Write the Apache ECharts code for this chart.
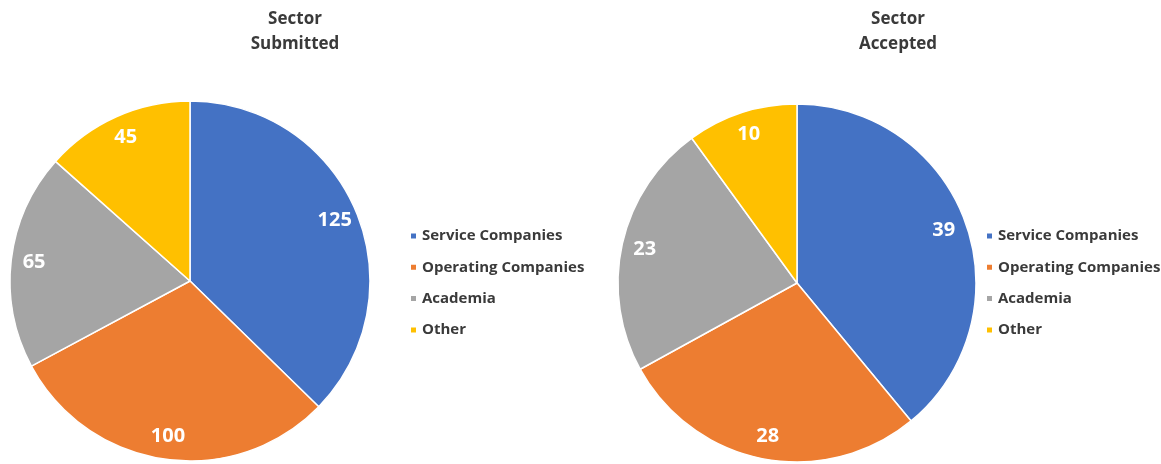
<!DOCTYPE html>
<html>
<head>
<meta charset="utf-8">
<script src="https://cdn.jsdelivr.net/npm/echarts@6/dist/echarts.min.js"></script>
<style>
  html, body { margin: 0; padding: 0; background: #fff; }
  #chart { width: 1161px; height: 464px; }
</style>
</head>
<body>
<div id="chart"></div>
<script>
var sectors = ["Service Companies", "Operating Companies", "Academia", "Other"];
var submitted = [125, 100, 65, 45];
var accepted = [39, 28, 23, 10];
var colors = ["#4472C4", "#ED7D31", "#A5A5A5", "#FFC000"];
var font = "'Open Sans', 'Liberation Sans', sans-serif";

function toItems(values) {
    var items = [];
    for (var i = 0; i < sectors.length; i++) {
        items.push({ name: sectors[i], value: values[i] });
    }
    return items;
}

// the slices themselves
function pieSeries(values, center, radius) {
    return {
        type: 'pie',
        center: center,
        radius: [0, radius],
        startAngle: 90,
        clockwise: true,
        avoidLabelOverlap: false,
        label: { show: false },
        labelLine: { show: false },
        itemStyle: { borderColor: '#fff', borderWidth: 1.5 },
        emphasis: { disabled: true },
        data: toItems(values)
    };
}

// invisible ring so the value labels sit near the rim
function labelSeries(values, center, radius) {
    return {
        type: 'pie',
        center: center,
        radius: [radius - 52, radius],
        startAngle: 90,
        clockwise: true,
        silent: true,
        avoidLabelOverlap: false,
        itemStyle: { color: 'rgba(0,0,0,0)' },
        label: {
            show: true,
            position: 'inside',
            formatter: '{c}',
            color: '#fff',
            fontFamily: font,
            fontWeight: 'bold',
            fontSize: 20
        },
        labelLine: { show: false },
        emphasis: { disabled: true },
        data: toItems(values)
    };
}

function legendAt(left) {
    return {
        orient: 'vertical',
        left: left,
        top: 221,
        padding: 5,
        icon: 'rect',
        itemWidth: 7,
        itemHeight: 7,
        itemGap: 11.3,
        selectedMode: false,
        data: sectors,
        textStyle: {
            fontFamily: font,
            fontWeight: 'bold',
            fontSize: 15,
            lineHeight: 20,
            color: '#3a3a3a'
        }
    };
}

var titleStyle = {
    fontFamily: font,
    fontWeight: 'bold',
    fontSize: 17,
    lineHeight: 25,
    color: '#3a3a3a'
};

var chart = echarts.init(document.getElementById('chart'));
chart.setOption({
    backgroundColor: '#fff',
    color: colors,
    animation: false,
    title: [
        { text: 'Sector\nSubmitted', left: 290, top: 2, textAlign: 'center', textStyle: titleStyle },
        { text: 'Sector\nAccepted', left: 893, top: 2, textAlign: 'center', textStyle: titleStyle }
    ],
    legend: [legendAt(404), legendAt(980)],
    series: [
        pieSeries(submitted, [190, 281], 180),
        pieSeries(accepted, [797, 283], 179),
        labelSeries(submitted, [190, 281], 180),
        labelSeries(accepted, [797, 283], 179)
    ]
});
</script>
</body>
</html>
